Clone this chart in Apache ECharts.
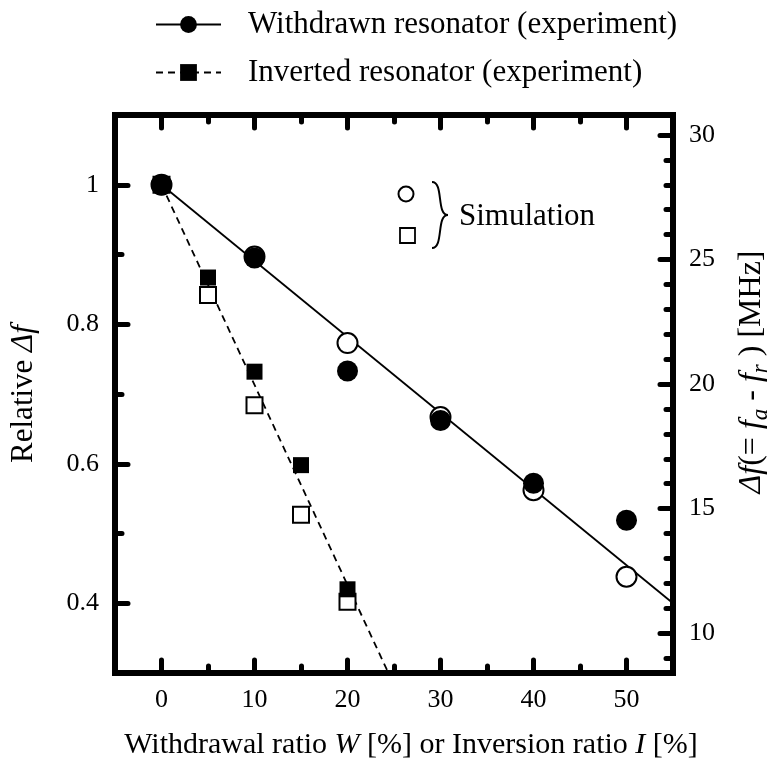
<!DOCTYPE html>
<html>
<head>
<meta charset="utf-8">
<script src="https://cdn.jsdelivr.net/npm/echarts@6/dist/echarts.min.js"></script>
<style>
  html, body { margin: 0; padding: 0; background: #fff; }
  #chart { width: 771px; height: 771px; }
</style>
</head>
<body>
<div id="chart"></div>
<script>
// withdrawal / inversion ratio in %
const withdrawRatio = [0, 10, 20, 30, 40, 50];
const invertRatio = [0, 5, 10, 15, 20];

// relative delta f
const withdrawnExp = [1.0, 0.895, 0.733, 0.662, 0.572, 0.519];
const withdrawnSim = [1.0, 0.897, 0.773, 0.667, 0.562, 0.438];
const invertedExp = [1.0, 0.867, 0.732, 0.598, 0.420];
const invertedSim = [1.0, 0.842, 0.684, 0.527, 0.402];

// straight guide lines (end points)
const withdrawnFit = [[0, 1.0], [55, 0.4]];
const invertedFit = [[0, 1.0], [24.4, 0.3]];

// ticks
const xMajorTicks = [0, 10, 20, 30, 40, 50];
const xMinorTicks = [5, 15, 25, 35, 45];
const yMajorTicks = [0.4, 0.6, 0.8, 1.0];
const yMinorTicks = [0.5, 0.7, 0.9];
const mhzMajorTicks = [10, 15, 20, 25, 30];
const mhzMinorTicks = [9, 11, 12, 13, 14, 16, 17, 18, 19, 21, 22, 23, 24, 26, 27, 28, 29];

const legendNames = ['Withdrawn resonator (experiment)', 'Inverted resonator (experiment)'];

const serif = 'Liberation Serif';
const relMin = 0.3, relMax = 1.1;
const mhzFactor = 28; // delta f at ratio 0, MHz

function zip(xs, ys) {
  return xs.map((x, i) => [x, ys[i]]);
}

function tickAxis(kind, position, values, len, extra) {
  const base = {
    type: 'value',
    position: position,
    splitLine: { show: false },
    axisLine: { show: false, onZero: false },
    axisTick: {
      show: true,
      inside: true,
      length: len,
      customValues: values,
      lineStyle: { color: '#000', width: 5, cap: 'round' }
    },
    axisLabel: { show: false }
  };
  if (kind === 'x') {
    base.min = -5; base.max = 55;
  }
  return Object.assign(base, extra || {});
}

const chart = echarts.init(document.getElementById('chart'));

const option = {
  animation: false,
  backgroundColor: '#fff',
  textStyle: { fontFamily: serif, color: '#000' },
  grid: {
    left: 115, right: 98, top: 115, bottom: 98,
    outerBoundsMode: 'none',
    containLabel: false,
    show: true, borderColor: '#000', borderWidth: 6
  },
  legend: {
    data: legendNames,
    orient: 'vertical',
    left: 155,
    top: 9,
    padding: 0,
    itemGap: 17,
    itemWidth: 65,
    itemHeight: 21,
    selectedMode: false,
    textStyle: { fontFamily: serif, fontSize: 31, color: '#000', padding: [0, 0, 0, 22] }
  },
  xAxis: [
    tickAxis('x', 'bottom', xMajorTicks, 13, {
      axisLabel: {
        show: true, customValues: xMajorTicks, margin: 14,
        fontFamily: serif, fontSize: 26, color: '#000'
      },
      name: '{n|Withdrawal ratio }{i|W}{n| [%] or Inversion ratio }{i|I}{n| [%]}',
      nameLocation: 'middle',
      nameGap: 57,
      nameTextStyle: {
        padding: [0, 0, 0, 34],
        rich: {
          n: { fontFamily: serif, fontSize: 30, color: '#000' },
          i: { fontFamily: serif, fontSize: 30, fontStyle: 'italic', color: '#000' }
        }
      }
    }),
    tickAxis('x', 'bottom', xMinorTicks, 7),
    tickAxis('x', 'top', xMajorTicks, 13),
    tickAxis('x', 'top', xMinorTicks, 7)
  ],
  yAxis: [
    tickAxis('y', 'left', yMajorTicks, 13, {
      min: relMin, max: relMax,
      axisLabel: {
        show: true, customValues: yMajorTicks, margin: 16,
        fontFamily: serif, fontSize: 26, color: '#000'
      },
      name: '{n|Relative }{i|\u0394f}',
      nameLocation: 'middle',
      nameRotate: 90,
      nameGap: 76,
      nameTextStyle: {
        rich: {
          n: { fontFamily: serif, fontSize: 31, color: '#000' },
          i: { fontFamily: serif, fontSize: 31, fontStyle: 'italic', color: '#000' }
        }
      }
    }),
    tickAxis('y', 'left', yMinorTicks, 7, { min: relMin, max: relMax }),
    tickAxis('y', 'right', mhzMajorTicks, 13, {
      min: relMin * mhzFactor, max: relMax * mhzFactor,
      axisLabel: {
        show: true, customValues: mhzMajorTicks, margin: 16,
        fontFamily: serif, fontSize: 26, color: '#000'
      },
      name: '{i|\u0394f}{n|(= }{i|f}{s|a}{n| - }{i|f}{s|r}{n| ) [MHz]}',
      nameLocation: 'middle',
      nameRotate: 90,
      nameGap: 59,
      nameTextStyle: {
        padding: [0, 0, 0, 44],
        rich: {
          n: { fontFamily: serif, fontSize: 32, color: '#000' },
          i: { fontFamily: serif, fontSize: 32, fontStyle: 'italic', color: '#000' },
          s: { fontFamily: serif, fontSize: 23, fontStyle: 'italic', color: '#000',
               verticalAlign: 'top', padding: [17, 0, 0, 0] }
        }
      }
    }),
    tickAxis('y', 'right', mhzMinorTicks, 7, { min: relMin * mhzFactor, max: relMax * mhzFactor })
  ],
  series: [
    {
      name: legendNames[0],
      type: 'line',
      data: withdrawnFit,
      symbol: 'circle',
      showSymbol: false,
      silent: true,
      z: 2,
      lineStyle: { color: '#000', width: 1.8 },
      itemStyle: { color: '#000' }
    },
    {
      name: legendNames[1],
      type: 'line',
      data: invertedFit,
      symbol: 'rect',
      showSymbol: false,
      silent: true,
      z: 2,
      lineStyle: { color: '#000', width: 1.8, type: [7, 5] },
      itemStyle: { color: '#000' }
    },
    {
      name: 'Withdrawn (simulation)',
      type: 'scatter',
      data: zip(withdrawRatio, withdrawnSim),
      symbol: 'circle',
      symbolSize: 20,
      z: 3,
      itemStyle: { color: '#fff', borderColor: '#000', borderWidth: 2, opacity: 1 }
    },
    {
      name: 'Inverted (simulation)',
      type: 'scatter',
      data: zip(invertRatio, invertedSim),
      symbol: 'rect',
      symbolSize: 16,
      z: 3,
      itemStyle: { color: '#fff', borderColor: '#000', borderWidth: 2, opacity: 1 }
    },
    {
      name: 'Withdrawn (experiment points)',
      type: 'scatter',
      data: zip(withdrawRatio, withdrawnExp),
      symbol: 'circle',
      symbolSize: 21,
      z: 4,
      itemStyle: { color: '#000', opacity: 1 }
    },
    {
      name: 'Inverted (experiment points)',
      type: 'scatter',
      data: zip(invertRatio, invertedExp),
      symbol: 'rect',
      symbolSize: 16,
      z: 4,
      itemStyle: { color: '#000', opacity: 1 }
    }
  ],
  graphic: [
    { type: 'circle', shape: { cx: 406, cy: 194, r: 7.5 },
      style: { fill: '#fff', stroke: '#000', lineWidth: 2 } },
    { type: 'rect', shape: { x: 400, y: 228, width: 15, height: 15 },
      style: { fill: '#fff', stroke: '#000', lineWidth: 1.8 } },
    { type: 'bezierCurve',
      shape: { x1: 432, y1: 182, cpx1: 444, cpy1: 182, cpx2: 436, cpy2: 215, x2: 448, y2: 215 },
      style: { fill: 'none', stroke: '#000', lineWidth: 2 } },
    { type: 'bezierCurve',
      shape: { x1: 448, y1: 215, cpx1: 436, cpy1: 215, cpx2: 444, cpy2: 248, x2: 432, y2: 248 },
      style: { fill: 'none', stroke: '#000', lineWidth: 2 } },
    { type: 'text', x: 459, y: 201,
      style: { text: 'Simulation', font: '31px "Liberation Serif"', fill: '#000' } }
  ]
};

chart.setOption(option);
</script>
</body>
</html>
